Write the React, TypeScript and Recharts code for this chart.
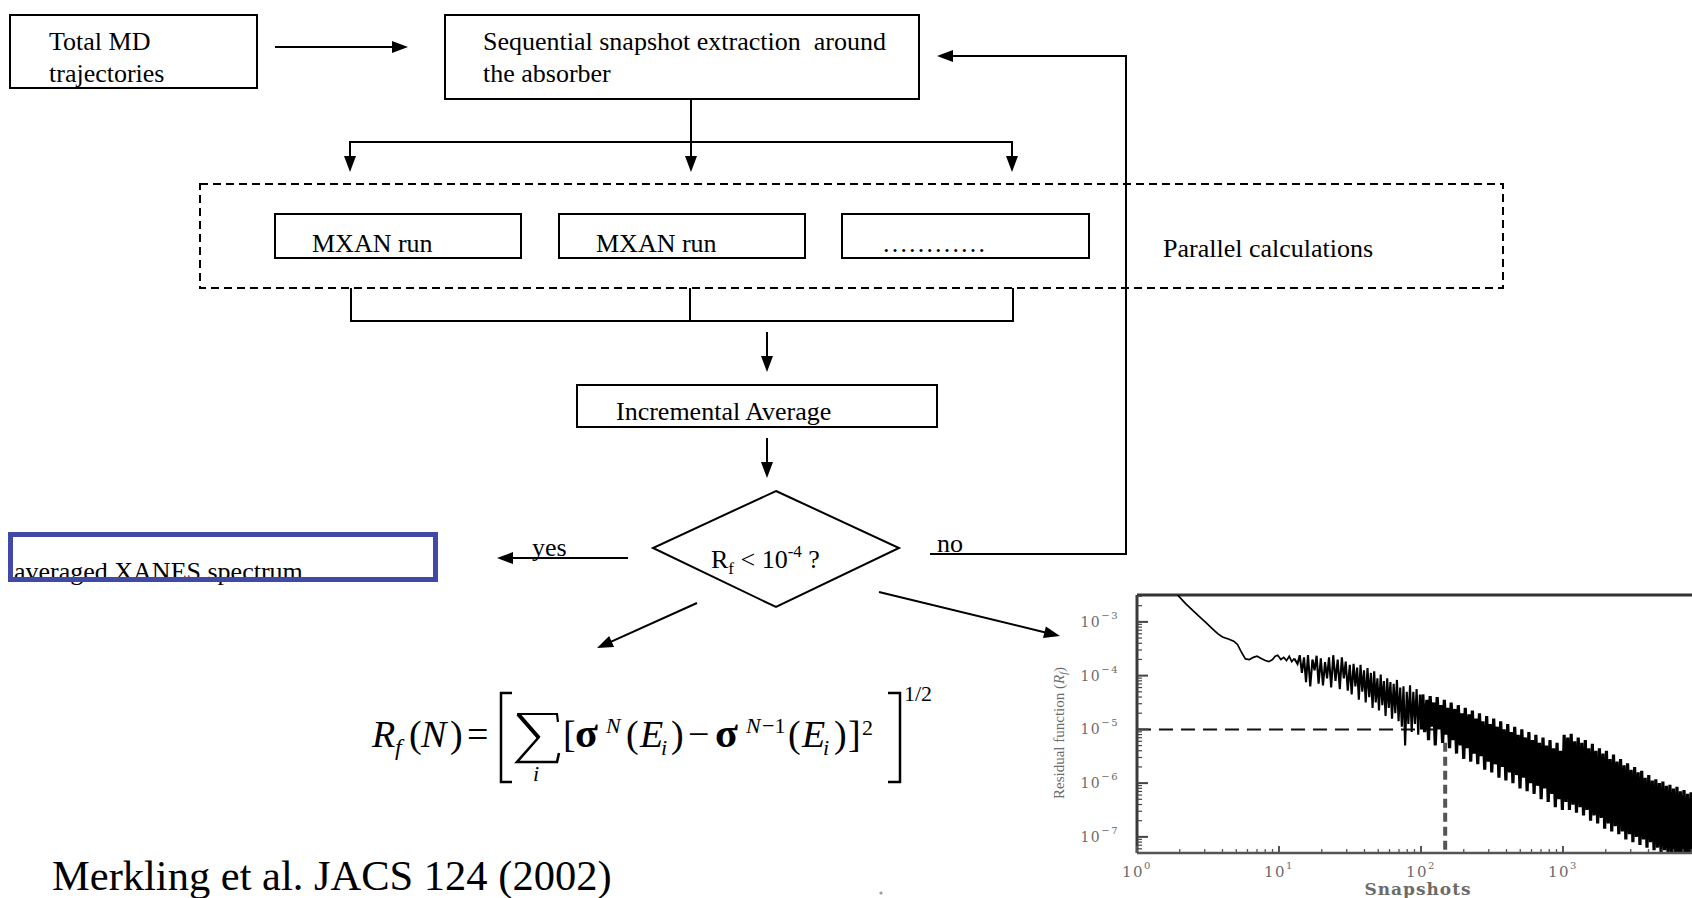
import React from 'react';
import { LineChart, Line, XAxis, YAxis, ReferenceLine, Label } from 'recharts';

// ---- Residual function trace: [snapshots, log10(R_f)] ----
const traceSmooth: [number, number][] = [
  [1.75, -2.35], [1.9, -2.48], [2.2, -2.66], [2.5, -2.8], [2.8, -2.92], [3.1, -3.03], [3.4, -3.13],
  [3.7, -3.22], [4.0, -3.28], [4.4, -3.32], [4.8, -3.36], [5.1, -3.42], [5.4, -3.55], [5.8, -3.69],
  [6.2, -3.7], [6.6, -3.66], [7.0, -3.64], [7.5, -3.68], [8.0, -3.72], [8.5, -3.74], [9.0, -3.7],
  [9.4, -3.64], [9.8, -3.62], [10.3, -3.7], [10.8, -3.66], [11.3, -3.72], [11.8, -3.64], [12.3, -3.74],
  [12.8, -3.68],
];

const traceEarlyNoise: [number, number][] = [
  [12.8, -3.68],
  [13.5, -3.78], [14, -3.62], [14.5, -3.95], [15, -3.66], [15.5, -4.12], [16, -3.62], [16.6, -4.2],
  [17.2, -3.7], [17.8, -3.9], [18.4, -3.63], [19, -4.15], [19.7, -3.68], [20.4, -4.18], [21.1, -3.75],
  [21.8, -4.05], [22.5, -3.66], [23.3, -4.22], [24.1, -3.62], [25, -4.1], [25.9, -3.7], [26.8, -4.25],
  [27.7, -3.66], [28.6, -4.05], [29.5, -3.74], [30.5, -4.28], [31.5, -3.8], [32.5, -4.35], [33.5, -3.78],
  [34.5, -4.2], [35.5, -3.85], [36.5, -4.45], [37.5, -3.8], [38.6, -4.3], [39.7, -3.9], [40.8, -4.5],
  [42, -3.86], [43.2, -4.4], [44.4, -3.95], [45.6, -4.6], [46.8, -3.92], [48, -4.5], [49.3, -4.05],
  [50.6, -4.65], [52, -3.98], [53.4, -4.55], [54.8, -4.1], [56.3, -4.75], [57.8, -4.05], [59.3, -4.6],
  [60.9, -4.12], [62.5, -4.8], [64.2, -4.15], [65.9, -4.7], [67.7, -4.08], [69.5, -4.85], [71.4, -4.22],
  [73.3, -4.95], [75.3, -4.2], [77.3, -5.3], [79.4, -4.3], [81.5, -4.9], [83.7, -4.18], [86, -5.05],
  [88.3, -4.3], [90.7, -4.9], [93.1, -4.25], [95.6, -5.1], [98.2, -4.35], [100.8, -5.0],
];

const traceMid: [number, number][] = [
  [100.8, -5.0],
  [103, -4.35], [106, -5.05], [110, -4.45], [113, -5.2], [116, -4.38], [119, -4.95], [123, -4.5],
  [126, -5.3], [130, -4.4], [134, -5.0], [138, -4.55], [142, -5.25], [146, -4.45], [150, -5.1],
  [154, -4.6], [159, -5.35], [163, -4.5], [168, -5.2], [173, -4.62], [178, -5.45], [183, -4.55],
  [189, -5.3], [194, -4.7], [200, -5.55], [205, -4.6], [211, -5.35], [218, -4.72], [224, -5.6],
  [230, -4.65], [237, -5.45], [244, -4.8], [251, -5.65], [258, -4.7], [266, -5.5], [273, -4.85],
  [281, -5.75], [290, -4.75], [298, -5.6], [307, -4.9], [315, -5.8], [325, -4.8], [334, -5.65],
  [344, -4.95], [354, -5.9], [364, -4.85], [374, -5.7], [385, -5.0], [396, -5.95], [408, -4.9],
  [420, -5.8], [432, -5.05], [444, -6.0], [457, -4.95], [471, -5.85], [484, -5.1], [498, -6.1],
  [513, -5.0], [528, -5.9], [543, -5.15], [559, -6.15], [575, -5.05], [591, -6.0], [609, -5.2],
  [626, -6.2], [644, -5.1], [663, -6.05], [682, -5.25], [702, -6.3], [723, -5.15], [743, -6.1],
  [765, -5.3], [787, -6.35], [810, -5.2], [834, -6.2], [858, -5.35], [883, -6.45], [908, -5.25],
  [935, -6.3], [962, -5.4], [990, -6.5],
];

const traceLate: [number, number][] = [
  [1019, -5.1], [1048, -6.35], [1079, -5.15], [1110, -6.5], [1142, -5.08], [1175, -6.4], [1209, -5.22],
  [1244, -6.55], [1280, -5.15], [1318, -6.45], [1356, -5.25], [1395, -6.6], [1436, -5.2], [1477, -6.5],
  [1520, -5.35], [1564, -6.7], [1610, -5.27], [1656, -6.6], [1704, -5.4], [1754, -6.75], [1805, -5.35],
  [1857, -6.65], [1911, -5.45], [1966, -6.85], [2023, -5.4], [2082, -6.75], [2142, -5.55], [2204, -6.9],
  [2268, -5.47], [2334, -6.8], [2402, -5.6], [2471, -6.95], [2543, -5.55], [2617, -6.9], [2693, -5.67],
  [2771, -7.05], [2851, -5.63], [2934, -6.95], [3019, -5.75], [3106, -7.1], [3196, -5.7], [3289, -7.0],
  [3384, -5.8], [3482, -7.15], [3583, -5.77], [3687, -7.05], [3794, -5.9], [3904, -7.2], [4017, -5.85],
  [4134, -7.1], [4254, -5.95], [4377, -7.25], [4504, -5.93], [4634, -7.2], [4769, -6.0], [4907, -7.3],
  [5049, -5.97], [5196, -7.25], [5346, -6.05], [5501, -7.35], [5661, -6.03], [5825, -7.3], [5994, -6.1],
  [6168, -7.4], [6347, -6.07], [6531, -7.35], [6720, -6.15], [6915, -7.45], [7115, -6.13], [7322, -7.4],
  [7534, -6.2], [7753, -7.5], [7978, -6.17], [8209, -7.45], [8447, -6.25], [8692, -7.55], [8944, -6.23],
  [9204, -7.5],
];

// Axis decades (those visible on the page) and reference values
const xDecades = [1, 10, 100, 1000];
const yDecades = [1e-8, 1e-7, 1e-6, 1e-5, 1e-4, 1e-3];
const xDomainExp = [0, 4];
const yDomainExp = [-7.3, -2.5];
const thresholdValue = 1e-5;
const thresholdEndSnapshot = 150;
const convergedSnapshot = 148;
const convergedTopExp = -5.25;

const SERIF = '"Liberation Serif", "Times New Roman", serif';
const AXIS_FONT = '"DejaVu Serif", serif';

const toPoints = (arr: [number, number][]) => arr.map(([n, e]) => ({ n, r: Math.pow(10, e) }));
const smoothData = toPoints(traceSmooth);
const noisyData = toPoints(traceEarlyNoise);
const denseData = toPoints([...traceMid, ...traceLate]);

const X_MIN = Math.pow(10, xDomainExp[0]);
const X_MAX = Math.pow(10, xDomainExp[1]);
const Y_MIN = Math.pow(10, yDomainExp[0]);
const Y_MAX = Math.pow(10, yDomainExp[1]);

function withMinors(decades: number[], lo: number, hi: number): number[] {
  const out: number[] = [];
  decades.forEach((d) => {
    for (let k = 1; k < 10; k++) {
      const v = d * k;
      if (v >= lo * 0.99999 && v <= hi * 1.00001) out.push(v);
    }
  });
  return out;
}
const xTicks = withMinors(xDecades, X_MIN, X_MAX);
const yTicks = withMinors(yDecades, Y_MIN, Y_MAX);

const isMajor = (v: number) => {
  const l = Math.log10(v);
  return Math.abs(l - Math.round(l)) < 1e-7;
};

const LABEL_COLOR = '#6b6b6b';

const XTick = (props: any) => {
  const { x, y, payload } = props;
  const v = payload.value;
  const major = isMajor(v);
  const e = Math.round(Math.log10(v));
  return (
    <g>
      <line x1={x} x2={x} y1={y} y2={y - (major ? 7 : 4)} stroke="#555" strokeWidth={major ? 2 : 1.3} />
      {major && (
        <text x={x} y={y + 24} textAnchor="middle" fontFamily={AXIS_FONT} fontSize={15} fill={LABEL_COLOR} letterSpacing={1.5}>
          10
          <tspan dy={-8} fontSize={10}>
            {e}
          </tspan>
        </text>
      )}
    </g>
  );
};

const YTick = (props: any) => {
  const { x, y, payload } = props;
  const v = payload.value;
  const major = isMajor(v);
  const e = Math.round(Math.log10(v));
  return (
    <g>
      <line x1={x} x2={x + (major ? 11 : 5)} y1={y} y2={y} stroke="#444" strokeWidth={major ? 2 : 1.2} />
      {major && (
        <text x={x - 18} y={y + 5} textAnchor="end" fontFamily={AXIS_FONT} fontSize={14} fill={LABEL_COLOR} letterSpacing={1.5}>
          10
          <tspan dy={-8} fontSize={10}>
            {'\u2212' + Math.abs(e)}
          </tspan>
        </text>
      )}
    </g>
  );
};

function Arrow({ x1, y1, x2, y2, head = 16, half = 6 }: { x1: number; y1: number; x2: number; y2: number; head?: number; half?: number }) {
  const dx = x2 - x1;
  const dy = y2 - y1;
  const L = Math.hypot(dx, dy);
  const ux = dx / L;
  const uy = dy / L;
  const bx = x2 - ux * head;
  const by = y2 - uy * head;
  const px = -uy * half;
  const py = ux * half;
  return (
    <g>
      <line x1={x1} y1={y1} x2={bx + ux * 1} y2={by + uy * 1} stroke="#000" strokeWidth={2} />
      <polygon points={`${x2},${y2} ${bx + px},${by + py} ${bx - px},${by - py}`} fill="#000" />
    </g>
  );
}

function Flowchart() {
  const t = { fontFamily: SERIF, fontSize: 26, fill: '#000' } as const;
  const it = { fontFamily: SERIF, fontStyle: 'italic' as const, fill: '#000' };
  const up = { fontFamily: SERIF, fill: '#000' };
  return (
    <svg width={1692} height={898} style={{ position: 'absolute', left: 0, top: 0 }}>
      {/* Box 1 */}
      <rect x={10} y={15} width={247} height={73} fill="none" stroke="#000" strokeWidth={2} />
      <text x={49} y={50} {...t}>Total MD</text>
      <text x={49} y={82} {...t}>trajectories</text>
      <Arrow x1={275} y1={47} x2={408} y2={47} />

      {/* Box 2 */}
      <rect x={445} y={15} width={474} height={84} fill="none" stroke="#000" strokeWidth={2} />
      <text x={483} y={50} {...t} style={{ whiteSpace: 'pre' }}>Sequential snapshot extraction  around</text>
      <text x={483} y={82} {...t}>the absorber</text>

      {/* branches */}
      <Arrow x1={691} y1={99} x2={691} y2={172} />
      <line x1={350} y1={142} x2={1012} y2={142} stroke="#000" strokeWidth={2} />
      <Arrow x1={350} y1={141} x2={350} y2={172} />
      <Arrow x1={1012} y1={141} x2={1012} y2={172} />

      {/* parallel dashed box */}
      <rect x={200} y={184} width={1303} height={104} fill="none" stroke="#000" strokeWidth={2} strokeDasharray="8 5" />
      <rect x={275} y={214} width={246} height={44} fill="none" stroke="#000" strokeWidth={2} />
      <rect x={559} y={214} width={246} height={44} fill="none" stroke="#000" strokeWidth={2} />
      <rect x={842} y={214} width={247} height={44} fill="none" stroke="#000" strokeWidth={2} />
      <text x={312} y={252} {...t}>MXAN run</text>
      <text x={596} y={252} {...t}>MXAN run</text>
      <text x={882} y={252} {...t}>{'\u2026\u2026\u2026\u2026'}</text>
      <text x={1163} y={257} {...t}>Parallel calculations</text>

      {/* join */}
      <line x1={351} y1={288} x2={351} y2={321} stroke="#000" strokeWidth={2} />
      <line x1={690} y1={288} x2={690} y2={321} stroke="#000" strokeWidth={2} />
      <line x1={1013} y1={288} x2={1013} y2={321} stroke="#000" strokeWidth={2} />
      <line x1={350} y1={321} x2={1014} y2={321} stroke="#000" strokeWidth={2} />
      <Arrow x1={767} y1={332} x2={767} y2={372} />

      {/* incremental average */}
      <rect x={577} y={385} width={360} height={42} fill="none" stroke="#000" strokeWidth={2} />
      <text x={616} y={420} {...t}>Incremental Average</text>
      <Arrow x1={767} y1={438} x2={767} y2={478} />

      {/* decision diamond */}
      <polygon points="776,491 899,548 776,607 653,548" fill="none" stroke="#000" strokeWidth={2} />
      <text x={711} y={568} {...t}>
        R<tspan fontSize={17} dy={6}>f</tspan>
        <tspan dy={-6}>{' < 10'}</tspan>
        <tspan fontSize={17} dy={-11}>-4</tspan>
        <tspan dy={11}>{' ?'}</tspan>
      </text>

      {/* yes branch */}
      <text x={532} y={556} {...t}>yes</text>
      <Arrow x1={628} y1={558} x2={497} y2={558} />
      <text x={14} y={580} {...t}>averaged XANES spectrum</text>
      <rect x={10.5} y={534.5} width={425} height={45} fill="none" stroke="#4149a8" strokeWidth={5} />

      {/* no branch / feedback */}
      <text x={937} y={552} {...t}>no</text>
      <line x1={930} y1={554} x2={1127} y2={554} stroke="#000" strokeWidth={2} />
      <line x1={1126} y1={555} x2={1126} y2={55} stroke="#000" strokeWidth={2} />
      <Arrow x1={1127} y1={56} x2={937} y2={56} />

      {/* diagonal arrows */}
      <Arrow x1={697} y1={603} x2={597} y2={648} />
      <Arrow x1={879} y1={592} x2={1060} y2={636} />

      {/* formula */}
      <text x={372} y={747} {...it} fontSize={38}>R</text>
      <text x={395} y={755} {...it} fontSize={24}>f</text>
      <text x={409} y={747} {...up} fontSize={38}>(</text>
      <text x={421} y={747} {...it} fontSize={38}>N</text>
      <text x={450} y={747} {...up} fontSize={38}>)</text>
      <text x={467} y={747} {...up} fontSize={38}>=</text>
      <path d="M512,693 L501,693 L501,782 L512,782" fill="none" stroke="#000" strokeWidth={2.5} />
      {/* summation sign */}
      <path d="M517,714 L557,714 L558,722" fill="none" stroke="#000" strokeWidth={2.2} />
      <path d="M518,714 L539,738" fill="none" stroke="#000" strokeWidth={4} />
      <path d="M539,737 L517,762 L557,762 L559,753" fill="none" stroke="#000" strokeWidth={2.6} strokeLinejoin="miter" />
      <text x={533} y={781} {...it} fontSize={22}>i</text>
      <text x={563} y={747} {...up} fontSize={38}>[</text>
      <text x={575} y={747} {...up} fontSize={42} fontWeight="bold">σ</text>
      <text x={606} y={733} {...it} fontSize={22}>N</text>
      <text x={626} y={747} {...up} fontSize={38}>(</text>
      <text x={640} y={747} {...it} fontSize={38}>E</text>
      <text x={661} y={755} {...it} fontSize={22}>i</text>
      <text x={671} y={747} {...up} fontSize={38}>)</text>
      <text x={688} y={747} {...up} fontSize={38}>{'\u2212'}</text>
      <text x={715} y={747} {...up} fontSize={42} fontWeight="bold">σ</text>
      <text x={746} y={733} {...it} fontSize={22}>N</text>
      <text x={762} y={733} {...up} fontSize={22}>{'\u22121'}</text>
      <text x={788} y={747} {...up} fontSize={38}>(</text>
      <text x={802} y={747} {...it} fontSize={38}>E</text>
      <text x={823} y={755} {...it} fontSize={22}>i</text>
      <text x={834} y={747} {...up} fontSize={38}>)</text>
      <text x={848} y={747} {...up} fontSize={38}>]</text>
      <text x={862} y={735} {...up} fontSize={22}>2</text>
      <path d="M888,693 L900,693 L900,782 L888,782" fill="none" stroke="#000" strokeWidth={2.5} />
      <text x={904} y={701} {...up} fontSize={22}>1/2</text>

      {/* citation */}
      <text x={52} y={890} fontFamily={SERIF} fontSize={42.5} fill="#000">Merkling et al. JACS 124 (2002)</text>
      <circle cx={881} cy={893} r={1.6} fill="#999" />
    </svg>
  );
}

export default function App() {
  return (
    <div style={{ position: 'fixed', left: 0, top: 0, width: 1692, height: 898, overflow: 'hidden', background: '#fff' }}>
      <Flowchart />
      <div style={{ position: 'absolute', left: 1000, top: 560 }}>
        <LineChart width={705} height={338} margin={{ top: 35, right: 0, bottom: 0, left: 0 }}>
          <XAxis
            type="number"
            dataKey="n"
            scale="log"
            domain={[X_MIN, X_MAX]}
            allowDataOverflow
            ticks={xTicks}
            interval={0}
            tick={<XTick />}
            tickLine={false}
            tickSize={0}
            tickMargin={0}
            height={45}
            axisLine={{ stroke: '#555', strokeWidth: 2.5 }}
          >
            <Label
              content={() => (
                <text x={418} y={335} textAnchor="middle" fontFamily={AXIS_FONT} fontWeight="bold" fontSize={17} fill={LABEL_COLOR} letterSpacing={1}>
                  Snapshots
                </text>
              )}
            />
          </XAxis>
          <YAxis
            type="number"
            dataKey="r"
            scale="log"
            domain={[Y_MIN, Y_MAX]}
            allowDataOverflow
            ticks={yTicks}
            interval={0}
            tick={<YTick />}
            tickLine={false}
            tickSize={0}
            tickMargin={0}
            width={137}
            axisLine={{ stroke: '#3a3a3a', strokeWidth: 3 }}
          >
            <Label
              content={() => (
                <text
                  transform="translate(64,173) rotate(-90)"
                  textAnchor="middle"
                  fontFamily={SERIF}
                  fontSize={15}
                  fill={LABEL_COLOR}
                >
                  Residual function (<tspan fontStyle="italic">R</tspan>
                  <tspan fontStyle="italic" fontSize={10} dy={3}>f</tspan>
                  <tspan dy={-3}>)</tspan>
                </text>
              )}
            />
          </YAxis>
          <ReferenceLine y={Y_MAX} stroke="#333" strokeWidth={3} />
          <ReferenceLine
            segment={[
              { x: X_MIN, y: thresholdValue },
              { x: thresholdEndSnapshot, y: thresholdValue },
            ]}
            stroke="#111"
            strokeWidth={2}
            strokeDasharray="14 8"
          />
          <ReferenceLine
            segment={[
              { x: convergedSnapshot, y: Math.pow(10, convergedTopExp) },
              { x: convergedSnapshot, y: Y_MIN * 1.02 },
            ]}
            stroke="#555"
            strokeWidth={4}
            strokeDasharray="9 5"
          />
          <Line
            data={smoothData}
            type="linear"
            dataKey="r"
            stroke="#000"
            strokeWidth={1.7}
            dot={false}
            isAnimationActive={false}
          />
          <Line
            data={noisyData}
            type="linear"
            dataKey="r"
            stroke="#000"
            strokeWidth={2.1}
            dot={false}
            isAnimationActive={false}
          />
          <Line
            data={denseData}
            type="linear"
            dataKey="r"
            stroke="#000"
            strokeWidth={3.2}
            dot={false}
            isAnimationActive={false}
          />
        </LineChart>
      </div>
    </div>
  );
}
